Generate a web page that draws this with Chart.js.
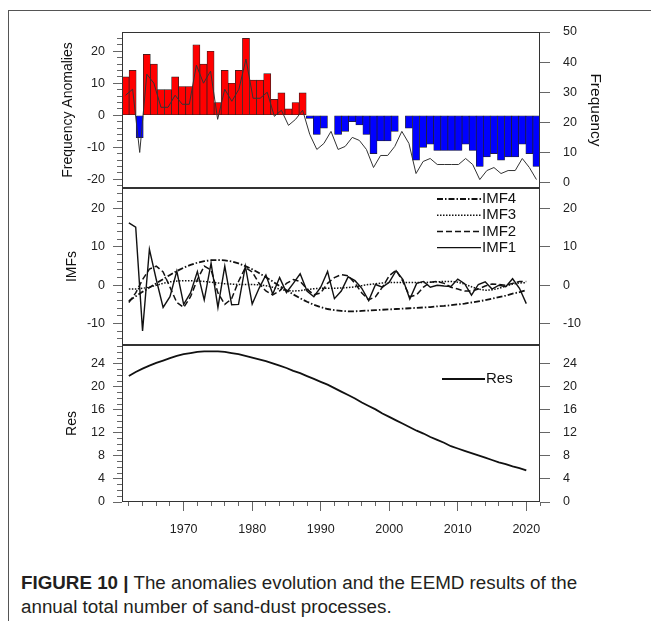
<!DOCTYPE html>
<html>
<head>
<meta charset="utf-8">
<script src="https://cdn.jsdelivr.net/npm/chart.js@4.4.0/dist/chart.umd.min.js"></script>
<style>
  html, body { margin: 0; padding: 0; background: #fff; }
  body { width: 651px; height: 621px; position: relative; overflow: hidden; font-family: 'Liberation Sans', Arial, sans-serif; }
  #frame { position: absolute; left: 8px; top: 10px; width: 660px; height: 640px; border-left: 1px solid #555; border-top: 1px solid #555; }
  canvas { position: absolute; left: 0; }
  #c1 { top: 0; }
  #c2 { top: 180px; }
  #c3 { top: 340px; }
  #caption { position: absolute; left: 21px; top: 571px; font-size: 18.8px; line-height: 24px; color: #231f20; white-space: nowrap; }
</style>
</head>
<body>
<div id="frame"></div>
<canvas id="c1" width="651" height="200"></canvas>
<canvas id="c2" width="651" height="175"></canvas>
<canvas id="c3" width="651" height="200"></canvas>
<div id="caption"><b>FIGURE 10 |</b> The anomalies evolution and the EEMD results of the<br>annual total number of sand-dust processes.</div>
<script>
// data, 1962-2020
const years = [1962, 1963, 1964, 1965, 1966, 1967, 1968, 1969, 1970, 1971,
  1972, 1973, 1974, 1975, 1976, 1977, 1978, 1979, 1980, 1981,
  1982, 1983, 1984, 1985, 1986, 1987, 1988, 1989, 1990, 1991,
  1992, 1993, 1994, 1995, 1996, 1997, 1998, 1999, 2000, 2001,
  2002, 2003, 2004, 2005, 2006, 2007, 2008, 2009, 2010, 2011,
  2012, 2013, 2014, 2015, 2016, 2017, 2018, 2019, 2020];

const anomaly = [12, 14, -7, 19, 16, 8, 8, 12, 9, 9,
  22, 16, 20, 4, 14, 10, 14, 24, 11, 11,
  13, 5, 7, 2, 4, 7, -1, -6, -4, 0,
  -6, -5, -2, -3, -6, -12, -8, -8, -5, 0,
  -4, -14, -10, -9, -11, -11, -11, -11, -9, -11,
  -16, -13, -12, -14, -13, -13, -9, -12, -16];

const frequency = [29, 31, 10, 36, 33, 25, 25, 29, 26, 26,
  39, 33, 37, 21, 31, 27, 31, 41, 28, 28,
  30, 22, 24, 19, 21, 24, 16, 11, 13, 17,
  11, 12, 15, 14, 11, 5, 9, 9, 12, 17,
  13, 3, 7, 8, 6, 6, 6, 6, 8, 6,
  1, 4, 5, 3, 4, 4, 8, 5, 1];

const imf1 = [16.3, 15.2, -11.9, 9.4, 1.5, -5.8, -3.0, 3.7, -5.0, -2.0,
  3.6, -3.8, 5.8, -5.8, 5.0, -5.1, -5.0, 5.0, -4.9, -0.8,
  2.7, -2.3, 2.0, -1.9, 0.5, 3.0, -1.5, -3.0, -0.5, 3.6,
  -3.5, -1.5, 2.2, 1.2, -0.8, -4.0, 0.2, -0.5, 0.8, 3.8,
  1.5, -3.6, 0.5, 1.0, -0.5, 0.0, -0.2, -0.3, 1.6, 0.4,
  -2.6, 0.2, 0.9, -1.0, 0.0, -0.4, 1.7, -0.8, -4.8];

const imf2 = [-4.5, -2.0, 1.5, 4.2, 5.0, 3.5, -0.5, -4.5, -5.8, -3.0,
  1.5, 5.0, 4.0, -2.0, -5.0, -3.5, 1.0, 4.6, 3.5, 0.5,
  -1.5, -2.5, -1.5, 0.5, 1.5, 1.0, -1.0, -2.5, -2.0, 0.5,
  2.0, 2.8, 2.5, 0.5, -2.0, -3.8, -3.0, -0.5, 2.5, 3.9,
  1.0, -3.0, -2.5, -0.5, 0.8, 1.0, 0.5, -0.5, -1.0, -1.5,
  -1.5, -1.0, -0.2, 0.3, 0.2, 0.0, 0.5, 1.0, 1.0];

const imf3 = [-1.0, -1.0, -0.8, -0.5, 0.0, 0.5, 0.9, 1.1, 1.2, 1.2,
  1.1, 1.0, 0.8, 0.6, 0.4, 0.3, 0.2, 0.2, 0.2, 0.1,
  -0.1, -0.5, -1.0, -1.4, -1.5, -1.4, -1.1, -0.9, -0.8, -0.8,
  -0.8, -0.7, -0.6, -0.4, -0.1, 0.2, 0.4, 0.6, 0.7, 0.7,
  0.7, 0.7, 0.7, 0.7, 0.8, 0.9, 1.0, 1.0, 0.8, 0.3,
  -0.4, -1.0, -1.3, -1.2, -0.8, -0.2, 0.3, 0.6, 0.7];

const imf4 = [-4.1, -2.9, -1.7, -0.6, 0.5, 1.6, 2.7, 3.7, 4.6, 5.3,
  5.9, 6.3, 6.55, 6.6, 6.5, 6.2, 5.7, 5.0, 4.2, 3.2,
  2.1, 1.0, -0.2, -1.3, -2.4, -3.4, -4.3, -5.1, -5.7, -6.2,
  -6.5, -6.7, -6.8, -6.8, -6.7, -6.6, -6.5, -6.4, -6.3, -6.2,
  -6.1, -6.0, -5.9, -5.8, -5.7, -5.5, -5.4, -5.2, -5.0, -4.8,
  -4.5, -4.2, -3.9, -3.5, -3.1, -2.7, -2.2, -1.8, -1.3];

const res = [21.9, 22.6, 23.2, 23.7, 24.2, 24.6, 25.0, 25.4, 25.7, 25.9,
  26.1, 26.2, 26.2, 26.2, 26.1, 25.9, 25.7, 25.4, 25.1, 24.8,
  24.5, 24.1, 23.7, 23.3, 22.8, 22.4, 21.9, 21.4, 20.9, 20.4,
  19.8, 19.2, 18.6, 18.0, 17.3, 16.7, 16.1, 15.4, 14.8, 14.2,
  13.6, 13.0, 12.4, 11.9, 11.3, 10.8, 10.3, 9.7, 9.3, 8.9,
  8.5, 8.1, 7.7, 7.3, 6.9, 6.6, 6.2, 5.9, 5.5];

// tick labels
const anomalyTicks = [-20, -10, 0, 10, 20];
const anomalyMinor = [-22, -20, -18, -16, -14, -12, -10, -8, -6, -4, -2, 0, 2, 4, 6, 8, 10, 12, 14, 16, 18, 20, 22, 24];
const frequencyTicks = [0, 10, 20, 30, 40, 50];
const imfTicks = [-10, 0, 10, 20];
const imfMinor = [-14, -12, -10, -8, -6, -4, -2, 0, 2, 4, 6, 8, 10, 12, 14, 16, 18, 20, 22, 24];
const resTicks = [0, 4, 8, 12, 16, 20, 24];
const resMinor = [0, 1, 2, 3, 4, 5, 6, 7, 8, 9, 10, 11, 12, 13, 14, 15, 16, 17, 18, 19, 20, 21, 22, 23, 24, 25, 26, 27];
const yearTicks = [1970, 1980, 1990, 2000, 2010, 2020];
const yearMinor = [1962, 1964, 1966, 1968, 1970, 1972, 1974, 1976, 1978, 1980, 1982, 1984, 1986, 1988, 1990,
  1992, 1994, 1996, 1998, 2000, 2002, 2004, 2006, 2008, 2010, 2012, 2014, 2016, 2018, 2020, 2022];

Chart.defaults.font.family = "'Liberation Sans', Arial, sans-serif";
Chart.defaults.font.size = 12.5;
Chart.defaults.color = '#222';

const PLOT_LEFT = 122;
const PLOT_RIGHT = 540;
const TICK_COLOR = '#666';

const points = vals => years.map((x, i) => ({ x: x, y: vals[i] }));
// fixed axis sizes; the label overhang padding is dropped so the panels line up
const noPad = scale => { scale.paddingTop = 0; scale.paddingBottom = 0; scale.paddingLeft = 0; scale.paddingRight = 0; };
const fixWidth = w => scale => { scale.width = w; noPad(scale); };
const fixHeight = h => scale => { scale.height = h; noPad(scale); };
const useTicks = list => scale => { scale.ticks = list.map(v => ({ value: v })); };
const plain = v => String(v);

// box round each panel
const framePlugin = {
  id: 'frame',
  afterDraw(chart) {
    const { ctx, chartArea: a } = chart;
    ctx.save();
    ctx.strokeStyle = '#333';
    ctx.lineWidth = 1;
    ctx.strokeRect(Math.round(a.left) + 0.5, Math.round(a.top) + 0.5,
      Math.round(a.right - a.left) - 1, Math.round(a.bottom - a.top) - 1);
    ctx.restore();
  }
};

// legend inside the plot, line sample then the name
const lineLegend = {
  id: 'lineLegend',
  afterDatasetsDraw(chart, args, opts) {
    if (!opts || !opts.items) return;
    const { ctx, chartArea } = chart;
    ctx.save();
    ctx.font = "15px 'Liberation Sans', Arial, sans-serif";
    ctx.textBaseline = 'middle';
    ctx.fillStyle = '#111';
    opts.items.forEach((idx, row) => {
      const ds = chart.data.datasets[idx];
      const x0 = chartArea.left + opts.left;
      const y = chartArea.top + opts.top + row * opts.gap;
      ctx.beginPath();
      ctx.setLineDash(ds.borderDash || []);
      ctx.lineWidth = ds.borderWidth;
      ctx.strokeStyle = ds.borderColor;
      ctx.moveTo(x0, y);
      ctx.lineTo(x0 + opts.len, y);
      ctx.stroke();
      ctx.setLineDash([]);
      ctx.fillText(ds.label, x0 + opts.len + 1, y);
    });
    ctx.restore();
  }
};

function leftAxes(min, max, major, minor, title, titlePad) {
  return {
    y: {
      position: 'left', min: min, max: max, weight: 1,
      afterFit: fixWidth(PLOT_LEFT), afterBuildTicks: useTicks(major),
      ticks: { padding: 8, autoSkip: false, callback: plain },
      grid: { drawOnChartArea: false, tickLength: 9, tickColor: TICK_COLOR },
      border: { display: false },
      title: { display: true, text: title, color: '#111', font: { size: 14 }, padding: { top: titlePad, bottom: 0 } }
    },
    yMinor: {
      position: 'left', min: min, max: max, weight: 0,
      afterFit: fixWidth(0), afterBuildTicks: useTicks(minor),
      ticks: { display: false },
      grid: { drawOnChartArea: false, tickLength: 5, tickColor: TICK_COLOR },
      border: { display: false }
    }
  };
}

function rightAxis(min, max, major, title) {
  const axis = {
    position: 'right', min: min, max: max,
    afterFit: fixWidth(651 - PLOT_RIGHT), afterBuildTicks: useTicks(major),
    ticks: { padding: 13, autoSkip: false, callback: plain },
    grid: { drawOnChartArea: false, tickLength: 10, tickColor: TICK_COLOR },
    border: { display: false }
  };
  if (title) {
    axis.title = { display: true, text: title, color: '#111', font: { size: 15.5 }, padding: { top: 46, bottom: 0 } };
  }
  return axis;
}

const hiddenX = (min, max) => ({ type: 'linear', min: min, max: max, display: false, offset: false });

const baseOptions = {
  responsive: false,
  animation: false,
  layout: { autoPadding: false },
  plugins: { legend: { display: false }, tooltip: { enabled: false } }
};

// top: anomalies as bars, frequency as a line
new Chart(document.getElementById('c1'), {
  type: 'bar',
  data: {
    datasets: [
      {
        type: 'bar',
        data: points(anomaly),
        yAxisID: 'y',
        backgroundColor: c => (c.raw && c.raw.y < 0 ? '#0000ff' : '#ff0000'),
        borderColor: '#222',
        borderWidth: 0.7,
        borderSkipped: false,
        barPercentage: 1,
        categoryPercentage: 1,
        order: 2
      },
      {
        type: 'line',
        data: points(frequency),
        yAxisID: 'yR',
        borderColor: '#333',
        borderWidth: 1,
        pointRadius: 0,
        tension: 0,
        order: 1
      }
    ]
  },
  options: Object.assign({}, baseOptions, {
    layout: { autoPadding: false, padding: { top: 32, bottom: 12, left: 0, right: 0 } },
    scales: Object.assign(
      { x: hiddenX(1961.5, 2020.5) },
      leftAxes(-22.7, 26, anomalyTicks, anomalyMinor, 'Frequency Anomalies', 59.6),
      { yR: rightAxis(-1.8, 50, frequencyTicks, 'Frequency') }
    )
  }),
  plugins: [framePlugin]
});

// middle: IMF1-IMF4
new Chart(document.getElementById('c2'), {
  type: 'line',
  data: {
    datasets: [
      { label: 'IMF1', data: points(imf1), borderColor: '#111', borderWidth: 1.4, borderDash: [], pointRadius: 0, tension: 0 },
      { label: 'IMF2', data: points(imf2), borderColor: '#111', borderWidth: 1.5, borderDash: [6, 3], pointRadius: 0, tension: 0 },
      { label: 'IMF3', data: points(imf3), borderColor: '#111', borderWidth: 1.5, borderDash: [1.5, 1.5], pointRadius: 0, tension: 0 },
      { label: 'IMF4', data: points(imf4), borderColor: '#111', borderWidth: 1.8, borderDash: [6, 2, 1.5, 2], pointRadius: 0, tension: 0 }
    ]
  },
  options: Object.assign({}, baseOptions, {
    layout: { autoPadding: false, padding: { top: 8, bottom: 10, left: 0, right: 0 } },
    plugins: {
      legend: { display: false }, tooltip: { enabled: false },
      lineLegend: { items: [3, 2, 1, 0], left: 315, top: 11, gap: 16.2, len: 44 }
    },
    scales: Object.assign(
      { x: hiddenX(1961, 2022) },
      leftAxes(-15.6, 25.4, imfTicks, imfMinor, 'IMFs', 63.6),
      { yR: rightAxis(-15.6, 25.4, imfTicks) }
    )
  }),
  plugins: [framePlugin, lineLegend]
});

// bottom: residual trend and the year axis
const bottomScales = Object.assign(
  {
    x: {
      type: 'linear', position: 'bottom', min: 1961, max: 2022, weight: 1, offset: false,
      afterFit: fixHeight(38), afterBuildTicks: useTicks(yearTicks),
      ticks: { padding: 11, autoSkip: false, maxRotation: 0, callback: plain },
      grid: { drawOnChartArea: false, tickLength: 9, tickColor: TICK_COLOR },
      border: { display: false }
    },
    xMinor: {
      type: 'linear', position: 'bottom', min: 1961, max: 2022, weight: 0, offset: false,
      afterFit: fixHeight(0), afterBuildTicks: useTicks(yearMinor),
      ticks: { display: false },
      grid: { drawOnChartArea: false, tickLength: 4, tickColor: TICK_COLOR },
      border: { display: false }
    }
  },
  leftAxes(0, 27.3, resTicks, resMinor, 'Res', 63.6),
  { yR: rightAxis(0, 27.3, resTicks) }
);

new Chart(document.getElementById('c3'), {
  type: 'line',
  data: {
    datasets: [
      { label: 'Res', data: points(res), xAxisID: 'x', borderColor: '#111', borderWidth: 1.8, pointRadius: 0, tension: 0 }
    ]
  },
  options: Object.assign({}, baseOptions, {
    layout: { autoPadding: false, padding: { top: 5, bottom: 0, left: 0, right: 0 } },
    plugins: {
      legend: { display: false }, tooltip: { enabled: false },
      lineLegend: { items: [0], left: 320, top: 34, gap: 16, len: 43 }
    },
    scales: bottomScales
  }),
  plugins: [framePlugin, lineLegend]
});
</script>
</body>
</html>
